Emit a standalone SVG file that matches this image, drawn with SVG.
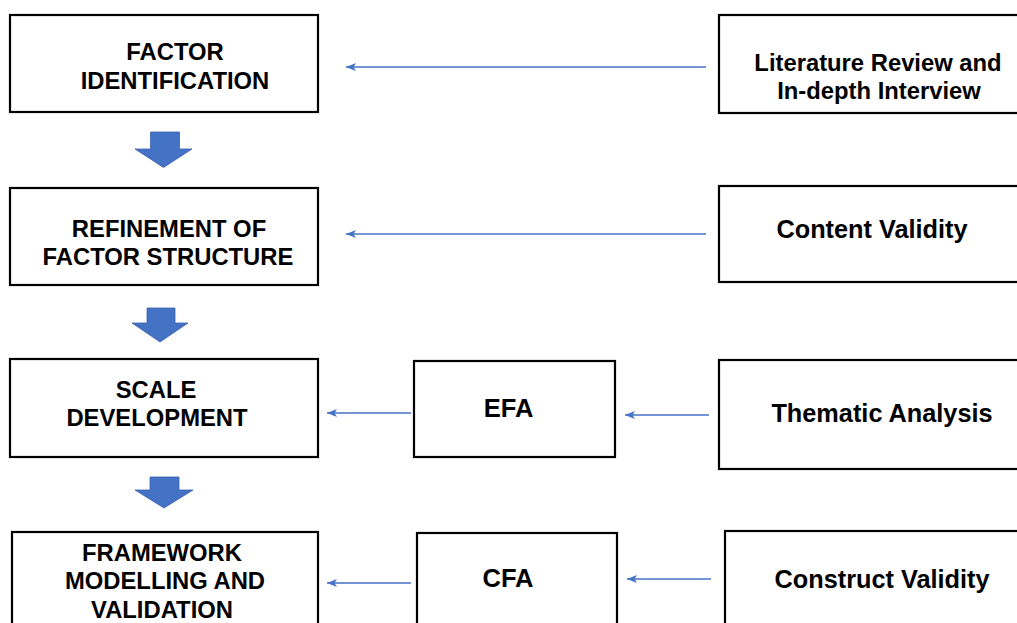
<svg xmlns="http://www.w3.org/2000/svg" width="1017" height="623" viewBox="0 0 1017 623">
<style>
.box{fill:#fff;stroke:#000;stroke-width:2.2}
.t{font-family:"Liberation Sans",Arial,sans-serif;font-weight:bold;fill:#000;text-anchor:middle}
.l{font-size:23.8px}
.r{font-size:25.3px}
.r1{font-size:23.8px}
.m{font-size:25.5px}
.con{stroke:#4472C4;stroke-width:1.3;fill:none}
.blk{fill:#4472C4;stroke:#3a62ad;stroke-width:0.8}
</style>
<defs>
<marker id="ah" viewBox="0 0 10 8" refX="10" refY="4" markerWidth="10" markerHeight="8" markerUnits="userSpaceOnUse" orient="auto">
<path d="M10,4 L0,0 L2.5,4 L0,8 Z" fill="#4472C4"/>
</marker>
</defs>
<rect width="1017" height="623" fill="#fff"/>
<g id="n1"><rect class="box" x="10" y="15" width="308" height="97"/>
<text class="t l" x="175" y="60">FACTOR</text><text class="t l" x="175" y="89">IDENTIFICATION</text></g>
<g id="n2"><rect class="box" x="10" y="188" width="308" height="97"/>
<text class="t l" x="169" y="237">REFINEMENT OF</text><text class="t l" x="168" y="265">FACTOR STRUCTURE</text></g>
<g id="n3"><rect class="box" x="10" y="359" width="308" height="98"/>
<text class="t l" x="156" y="398">SCALE</text><text class="t l" x="157" y="426">DEVELOPMENT</text></g>
<g id="n4"><rect class="box" x="12" y="532" width="306" height="100"/>
<text class="t l" x="162" y="561">FRAMEWORK</text><text class="t l" x="165" y="589">MODELLING AND</text><text class="t l" x="162" y="618">VALIDATION</text></g>
<g id="n5"><rect class="box" x="719" y="15" width="300" height="98"/>
<text class="t r1" x="878" y="71">Literature Review and</text><text class="t r1" x="879" y="99">In-depth Interview</text></g>
<g id="n6"><rect class="box" x="719" y="186" width="300" height="96"/>
<text class="t r" x="872" y="238">Content Validity</text></g>
<g id="n7"><rect class="box" x="719" y="360" width="300" height="109"/>
<text class="t r" x="882" y="422">Thematic Analysis</text></g>
<g id="n8"><rect class="box" x="725" y="531" width="300" height="100"/>
<text class="t r" x="882" y="588">Construct Validity</text></g>
<g id="n9"><rect class="box" x="414" y="361" width="201" height="96"/>
<text class="t m" x="508.5" y="417">EFA</text></g>
<g id="n10"><rect class="box" x="417" y="533" width="200" height="100"/>
<text class="t m" x="508" y="587">CFA</text></g>
<g id="connectors">
<line class="con" x1="706" y1="67" x2="346" y2="67" marker-end="url(#ah)"/>
<line class="con" x1="706" y1="234" x2="346" y2="234" marker-end="url(#ah)"/>
<line class="con" x1="411" y1="413" x2="327" y2="413" marker-end="url(#ah)"/>
<line class="con" x1="709" y1="415" x2="625" y2="415" marker-end="url(#ah)"/>
<line class="con" x1="411" y1="583" x2="327" y2="583" marker-end="url(#ah)"/>
<line class="con" x1="711" y1="579" x2="627" y2="579" marker-end="url(#ah)"/>
<path class="blk" d="M150.5,132 H179.5 V149 H192 L163.5,167.5 L135,149 H150.5 Z"/>
<path class="blk" d="M147,308 H175 V323 H188 L160,342 L132,323 H147 Z"/>
<path class="blk" d="M150,477 H179 V490 H193 L164,508 L135,490 H150 Z"/>
</g>
</svg>
